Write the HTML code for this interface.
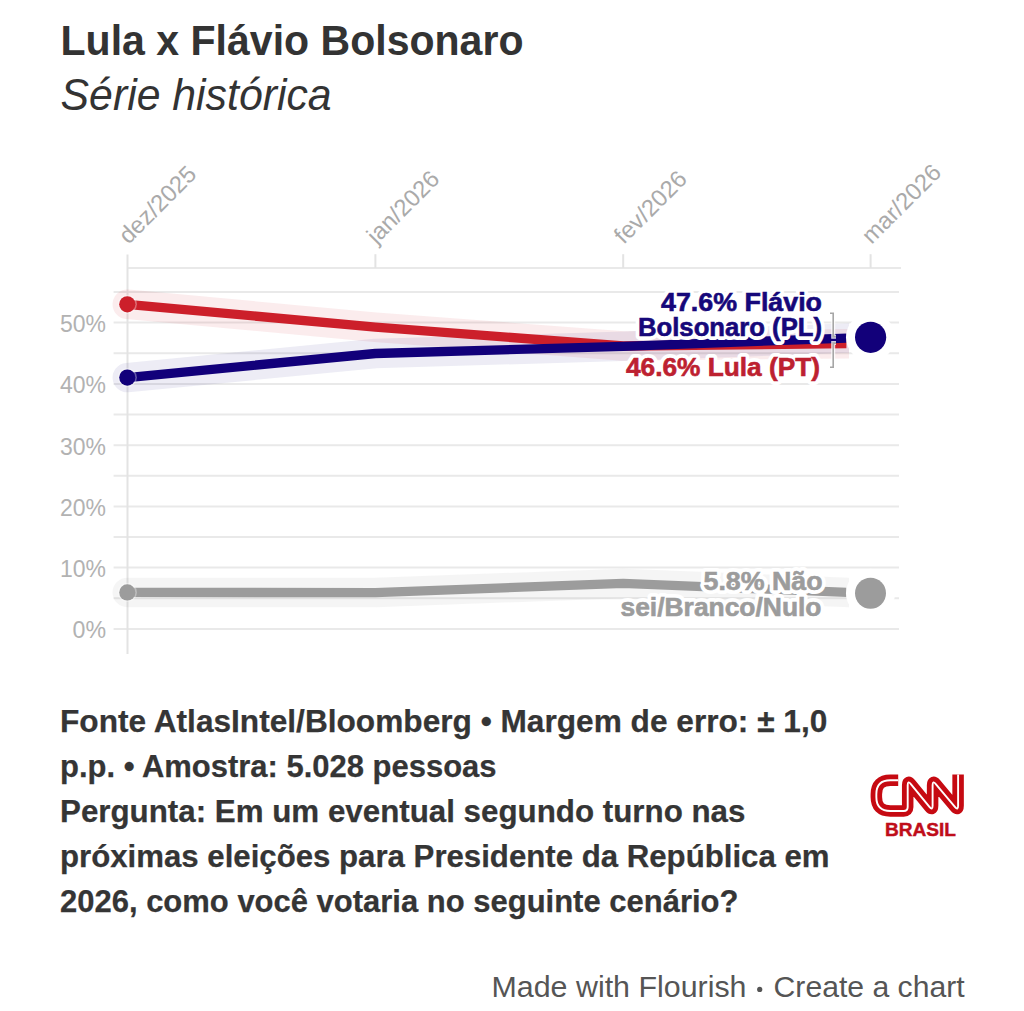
<!DOCTYPE html>
<html>
<head>
<meta charset="utf-8">
<style>
html,body{margin:0;padding:0;background:#fff;width:1024px;height:1011px;overflow:hidden;}
svg{display:block;font-family:"Liberation Sans",sans-serif;}
</style>
</head>
<body>
<svg width="1024" height="1011" viewBox="0 0 1024 1011">
<rect x="0" y="0" width="1024" height="1011" fill="#fff"/>

<!-- Title -->
<text x="60.5" y="55.4" font-size="42.8" font-weight="700" fill="#333" textLength="463" lengthAdjust="spacingAndGlyphs">Lula x Flávio Bolsonaro</text>
<text x="60.6" y="110" font-size="44" font-style="italic" fill="#333" textLength="271" lengthAdjust="spacingAndGlyphs">Série histórica</text>

<!-- Gridlines -->
<g stroke="#e9e9e9" stroke-width="2">
<line x1="127" y1="267.9" x2="901" y2="267.9"/>
<line x1="113.6" y1="292" x2="899" y2="292"/>
<line x1="113.6" y1="322.6" x2="899" y2="322.6"/>
<line x1="113.6" y1="353.3" x2="899" y2="353.3"/>
<line x1="113.6" y1="383.9" x2="899" y2="383.9"/>
<line x1="113.6" y1="414.5" x2="899" y2="414.5"/>
<line x1="113.6" y1="445.2" x2="899" y2="445.2"/>
<line x1="113.6" y1="475.8" x2="899" y2="475.8"/>
<line x1="113.6" y1="506.4" x2="899" y2="506.4"/>
<line x1="113.6" y1="537.0" x2="899" y2="537.0"/>
<line x1="113.6" y1="567.6" x2="899" y2="567.6"/>
<line x1="113.6" y1="598.3" x2="899" y2="598.3"/>
<line x1="113.6" y1="628.9" x2="899" y2="628.9"/>
</g>
<g stroke="#e3e3e3" stroke-width="2">
<line x1="127.5" y1="254.6" x2="127.5" y2="654"/>
<line x1="375.4" y1="254.2" x2="375.4" y2="268"/>
<line x1="623.2" y1="254.2" x2="623.2" y2="268"/>
<line x1="870.6" y1="254.2" x2="870.6" y2="268"/>
</g>

<!-- Y labels -->
<g font-size="24" fill="#b2b2b2" text-anchor="end">
<text x="106" y="331.9" textLength="46" lengthAdjust="spacingAndGlyphs">50%</text>
<text x="106" y="393.2" textLength="46" lengthAdjust="spacingAndGlyphs">40%</text>
<text x="106" y="454.5" textLength="46" lengthAdjust="spacingAndGlyphs">30%</text>
<text x="106" y="515.7" textLength="46" lengthAdjust="spacingAndGlyphs">20%</text>
<text x="106" y="576.9" textLength="46" lengthAdjust="spacingAndGlyphs">10%</text>
<text x="106" y="638.2" textLength="33.5" lengthAdjust="spacingAndGlyphs">0%</text>
</g>

<!-- X labels -->
<g font-size="23.8" fill="#aaaaaa">
<text transform="translate(128.5,245) rotate(-45)">dez/2025</text>
<text transform="translate(376.4,245) rotate(-45)">jan/2026</text>
<text transform="translate(623.8,245) rotate(-45)">fev/2026</text>
<text transform="translate(871.6,245) rotate(-45)">mar/2026</text>
</g>

<defs><clipPath id="cb"><rect x="0" y="0" width="849" height="1011"/></clipPath><clipPath id="cl"><rect x="0" y="0" width="846.4" height="1011"/></clipPath></defs>
<!-- Bands -->
<g clip-path="url(#cb)" fill="none" stroke-linecap="round" stroke-linejoin="round" stroke-width="29.5">
<polyline stroke="#9c9c9c" stroke-opacity="0.1" points="127.3,592.4 375.4,592.6 623.2,583.4 870.5,593.3"/>
<polyline stroke="#cc1f2a" stroke-opacity="0.085" points="127.3,304.3 375.4,327.2 623.2,346.0 870.5,343.4"/>
<polyline stroke="#12007a" stroke-opacity="0.075" points="127.3,377.6 375.4,353.5 623.2,346.3 870.5,337.2"/>
</g>

<!-- Lines -->
<g clip-path="url(#cl)" fill="none" stroke-linejoin="round" stroke-width="9.3">
<polyline stroke="#9c9c9c" points="127.3,592.4 375.4,592.6 623.2,583.4 870.5,593.3"/>
<polyline stroke="#cc1f2a" points="127.3,304.3 375.4,327.2 623.2,346.0 870.5,343.4"/>
<polyline stroke="#12007a" points="127.3,377.6 375.4,353.5 623.2,346.3 870.5,337.2"/>
</g>

<!-- Start dots -->
<g fill="#fff" fill-opacity="0.35">
<circle cx="127.3" cy="592.4" r="9.6"/>
<circle cx="127.3" cy="304.3" r="9.6"/>
<circle cx="127.3" cy="377.6" r="9.6"/>
</g>
<circle cx="127.3" cy="592.4" r="8.1" fill="#9c9c9c"/>
<circle cx="127.3" cy="304.3" r="8.1" fill="#cc1f2a"/>
<circle cx="127.3" cy="377.6" r="8.1" fill="#12007a"/>

<!-- End dots -->
<circle cx="870.5" cy="593.2" r="24.5" fill="#fff"/>
<circle cx="870.5" cy="593.2" r="15.5" fill="#9c9c9c"/>
<circle cx="870.5" cy="337.2" r="24.5" fill="#fff"/>
<circle cx="870.6" cy="337.3" r="15.6" fill="#12007a"/>

<!-- Labels -->
<defs>
<g id="lb" font-size="26" font-weight="700" text-anchor="end">
<text x="822" y="311.2" textLength="161" lengthAdjust="spacingAndGlyphs">47.6% Flávio</text>
<text x="822" y="336.4" textLength="184" lengthAdjust="spacingAndGlyphs">Bolsonaro (PL)</text>
</g>
<g id="lr" font-size="26" font-weight="700" text-anchor="end">
<text x="820" y="376" textLength="194" lengthAdjust="spacingAndGlyphs">46.6% Lula (PT)</text>
</g>
<g id="lg" font-size="26" font-weight="700" text-anchor="end">
<text x="822.5" y="589.8" textLength="119" lengthAdjust="spacingAndGlyphs">5.8% Não</text>
<text x="821.5" y="615.9" textLength="201" lengthAdjust="spacingAndGlyphs">sei/Branco/Nulo</text>
</g>
</defs>
<g fill="#fff" stroke="#fff" stroke-width="8" stroke-linejoin="round">
<use href="#lb"/><use href="#lr"/><use href="#lg"/>
</g>
<use href="#lb" fill="#16087a" stroke="#16087a" stroke-width="0.6"/>
<use href="#lr" fill="#bd2130" stroke="#bd2130" stroke-width="0.6"/>
<use href="#lg" fill="#9c9c9c" stroke="#9c9c9c" stroke-width="0.6"/>

<!-- Brackets -->
<g fill="none" stroke="#fff" stroke-width="4" stroke-opacity="0.8">
<polyline points="830,313.3 833.2,313.3 833.2,336.8 836,336.8"/>
<polyline points="836,343.1 833.2,343.1 833.2,367.2 830,367.2"/>
</g>
<g fill="none" stroke="#a6a6a6" stroke-width="1.6">
<polyline points="830,313.3 833.2,313.3 833.2,336.8 836,336.8"/>
<polyline points="836,343.1 833.2,343.1 833.2,367.2 830,367.2"/>
</g>

<!-- Footer -->
<g font-size="32" font-weight="700" fill="#353535" stroke="#353535" stroke-width="0.25">
<text x="60" y="731.6" textLength="767.3" lengthAdjust="spacingAndGlyphs">Fonte AtlasIntel/Bloomberg • Margem de erro: ± 1,0</text>
<text x="60" y="776.6" textLength="436.5" lengthAdjust="spacingAndGlyphs">p.p. • Amostra: 5.028 pessoas</text>
<text x="60" y="821.8" textLength="685.4" lengthAdjust="spacingAndGlyphs">Pergunta: Em um eventual segundo turno nas</text>
<text x="60" y="867.1" textLength="769.5" lengthAdjust="spacingAndGlyphs">próximas eleições para Presidente da República em</text>
<text x="60" y="911.7" textLength="678.4" lengthAdjust="spacingAndGlyphs">2026, como você votaria no seguinte cenário?</text>
</g>

<!-- CNN logo -->
<g fill="none" stroke-linejoin="round">
<path d="M898.20,780.30 L890.35,780.30 Q876.35,780.30 876.35,794.30 L876.35,796.95 Q876.35,810.95 890.35,810.95 L903.70,810.95 Q907.70,810.95 907.70,806.95 L907.70,785.20 Q907.70,780.20 910.86,784.07 L929.44,806.83 Q932.60,810.70 932.60,805.70 L932.60,785.20 Q932.60,780.20 935.81,784.04 L954.89,806.86 Q958.10,810.70 958.10,805.70 L958.10,774.40" stroke="#c60a12" stroke-width="11.5"/>
<path d="M898.20,780.30 L890.35,780.30 Q876.35,780.30 876.35,794.30 L876.35,796.95 Q876.35,810.95 890.35,810.95 L903.70,810.95 Q907.70,810.95 907.70,806.95 L907.70,785.20 Q907.70,780.20 910.86,784.07 L929.44,806.83 Q932.60,810.70 932.60,805.70 L932.60,785.20 Q932.60,780.20 935.81,784.04 L954.89,806.86 Q958.10,810.70 958.10,805.70 L958.10,774.40" stroke="#fff" stroke-width="1.9"/>
</g>
<text x="885" y="836.2" font-size="17.5" font-weight="700" fill="#bf0d1a" stroke="#bf0d1a" stroke-width="0.4" textLength="71" lengthAdjust="spacingAndGlyphs">BRASIL</text>

<!-- Made with Flourish -->
<g font-size="28.8" fill="#555">
<text x="491.5" y="997.3" textLength="255" lengthAdjust="spacingAndGlyphs">Made with Flourish</text>
<text x="773.6" y="997.3" textLength="191" lengthAdjust="spacingAndGlyphs">Create a chart</text>
</g>
<circle cx="759.7" cy="989.4" r="2.6" fill="#555"/>
</svg>
</body>
</html>
